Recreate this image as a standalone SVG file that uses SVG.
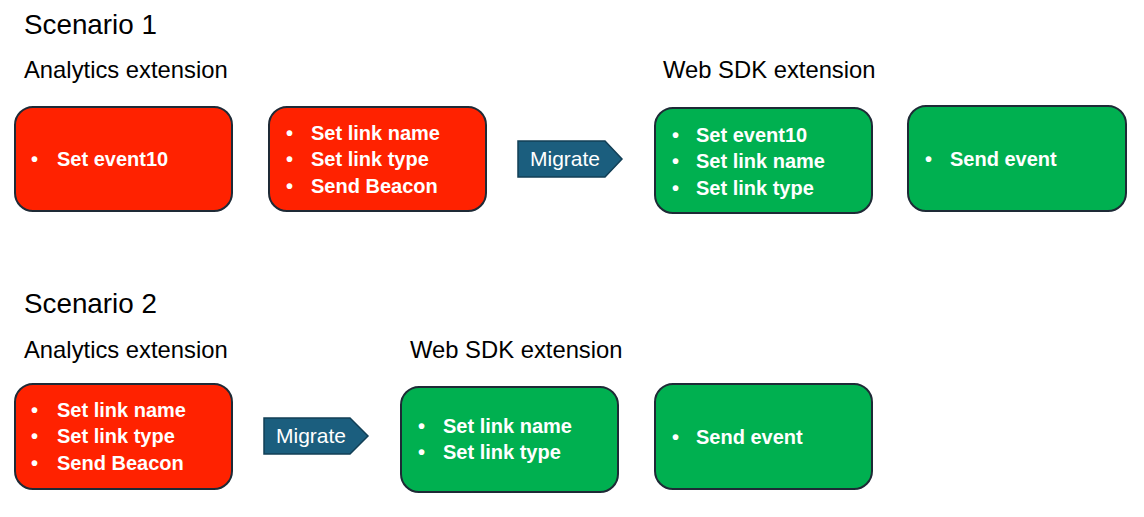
<svg xmlns="http://www.w3.org/2000/svg" width="1144" height="517" viewBox="0 0 1144 517">
<style>
  .title { font-family: "Liberation Sans", Arial, sans-serif; font-size: 27.8px; fill: #000; }
  .head { font-family: "Liberation Sans", Arial, sans-serif; font-size: 23.8px; fill: #000; }
  .red { fill: #FF2200; stroke: #1E2A36; stroke-width: 2; }
  .green { fill: #00B050; stroke: #1E2A36; stroke-width: 2; }
  .item { font-family: "Liberation Sans", Arial, sans-serif; font-size: 20px; font-weight: bold; fill: #FFFFFF; }
  .arrow { fill: #1B5E7E; stroke: #123F56; stroke-width: 1.5; }
  .mig { font-family: "Liberation Sans", Arial, sans-serif; font-size: 21px; fill: #FFFFFF; }
</style>
<rect width="1144" height="517" fill="#FFFFFF"/>

<text class="title" x="24" y="34">Scenario 1</text>
<text class="head" x="24" y="78">Analytics extension</text>
<text class="head" x="663" y="78">Web SDK extension</text>

<text class="title" x="24" y="313">Scenario 2</text>
<text class="head" x="24" y="358">Analytics extension</text>
<text class="head" x="410" y="358">Web SDK extension</text>

<g id="s1-analytics-1">
  <rect class="red" x="15" y="107" width="217" height="104" rx="18"/>
  <text class="item" x="31" y="166">•</text>
  <text class="item" x="57" y="166">Set event10</text>
</g>
<g id="s1-analytics-2">
  <rect class="red" x="269" y="107" width="217" height="104" rx="18"/>
  <text class="item" x="286" y="140">•</text>
  <text class="item" x="311" y="140">Set link name</text>
  <text class="item" x="286" y="166">•</text>
  <text class="item" x="311" y="166">Set link type</text>
  <text class="item" x="286" y="193">•</text>
  <text class="item" x="311" y="193">Send Beacon</text>
</g>
<g id="s1-websdk-1">
  <rect class="green" x="655" y="108" width="217" height="105" rx="18"/>
  <text class="item" x="672" y="142">•</text>
  <text class="item" x="696" y="142">Set event10</text>
  <text class="item" x="672" y="168">•</text>
  <text class="item" x="696" y="168">Set link name</text>
  <text class="item" x="672" y="195">•</text>
  <text class="item" x="696" y="195">Set link type</text>
</g>
<g id="s1-websdk-2">
  <rect class="green" x="908" y="106" width="218" height="105" rx="18"/>
  <text class="item" x="925" y="166">•</text>
  <text class="item" x="950" y="166">Send event</text>
</g>

<g id="s2-analytics-1">
  <rect class="red" x="15" y="384" width="217" height="105" rx="18"/>
  <text class="item" x="31" y="417">•</text>
  <text class="item" x="57" y="417">Set link name</text>
  <text class="item" x="31" y="443">•</text>
  <text class="item" x="57" y="443">Set link type</text>
  <text class="item" x="31" y="470">•</text>
  <text class="item" x="57" y="470">Send Beacon</text>
</g>
<g id="s2-websdk-1">
  <rect class="green" x="401" y="387" width="217" height="105" rx="18"/>
  <text class="item" x="418" y="433">•</text>
  <text class="item" x="443" y="433">Set link name</text>
  <text class="item" x="418" y="459">•</text>
  <text class="item" x="443" y="459">Set link type</text>
</g>
<g id="s2-websdk-2">
  <rect class="green" x="655" y="384" width="217" height="105" rx="18"/>
  <text class="item" x="672" y="444">•</text>
  <text class="item" x="696" y="444">Send event</text>
</g>

<g id="connectors">
  <g id="s1-migrate">
    <polygon class="arrow" points="518,141 605,141 622,159 605,177 518,177"/>
    <text class="mig" x="530" y="166">Migrate</text>
  </g>
  <g id="s2-migrate">
    <polygon class="arrow" points="264,418 350,418 368,436 350,454 264,454"/>
    <text class="mig" x="276" y="443">Migrate</text>
  </g>
</g>
</svg>
